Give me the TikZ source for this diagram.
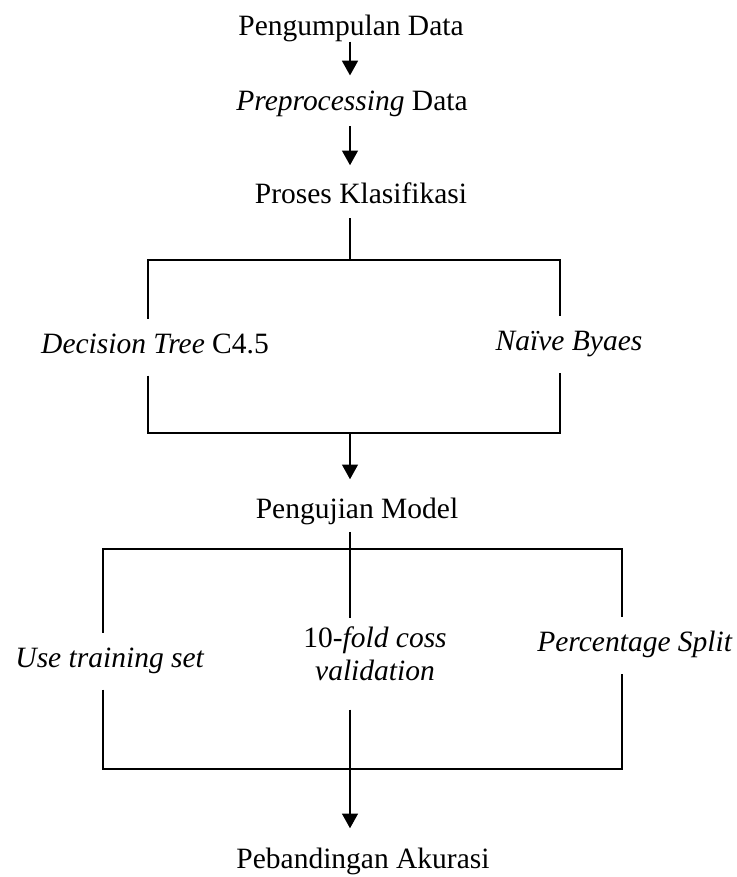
\documentclass[tikz,border=0pt]{standalone}
\usepackage{fontspec}
\setmainfont{Liberation Serif}
\usetikzlibrary{arrows.meta}

\begin{document}
\begin{tikzpicture}[x=0.4068pt, y=-0.4068pt, line width=0.9pt]
  \tikzstyle{stage} = [inner sep=0pt, text height=0.69em, text depth=0.22em, font=\fontsize{12}{13.4}\selectfont]
  \tikzstyle{method} = [stage, inner ysep=6.6pt]
  \tikzstyle{arrow} = [draw, -{Triangle[length=6pt, width=6.4pt]}]
  \useasboundingbox (0,0) rectangle (736,877);

  \coordinate (axis) at (350,0);
  \node[stage, anchor=base] (collect) at (351,35) {Pengumpulan Data};
  \node[stage, anchor=base] (prep) at (352,110) {\textit{Preprocessing} Data};
  \node[stage, anchor=base] (classify) at (361,203) {Proses Klasifikasi};
  \node[method, anchor=base] (dtree) at (155,353) {\textit{Decision Tree} C4.5};
  \node[method, anchor=base] (bayes) at (569,350) {\textit{Naïve Byaes}};
  \node[stage, anchor=base] (test) at (357,518) {Pengujian Model};
  \node[method, anchor=base] (train) at (110,667) {\textit{Use training set}};
  \node[method, anchor=base, align=center, text height=1.81em, text depth=0.5em] (cv) at (375,680) {10-\textit{fold coss}\\\textit{validation}};
  \node[method, anchor=base] (split) at (635,651) {\textit{Percentage Split}};
  \node[stage, anchor=base] (result) at (363,868) {Pebandingan Akurasi};

  % upper bracket
  \coordinate (ul) at (148,260);
  \coordinate (ur) at (560,260);
  \coordinate (ll) at (148,433);
  \coordinate (lr) at (560,433);
  % lower bracket
  \coordinate (bl) at (103,549);
  \coordinate (br) at (622,549);
  \coordinate (bl2) at (103,769);
  \coordinate (br2) at (622,769);

  \path[arrow] (axis |- collect.south) -- (axis |- prep.north) [shorten >=6.7pt];
  \path[arrow, shorten <=3.9pt, shorten >=8pt] (axis |- prep.south) -- (axis |- classify.north);
  \draw[line width=0.5pt, shorten <=3.5pt] (axis |- classify.south) -- (axis |- ul);
  \draw (ul |- dtree.north) -- (ul) -- (ur) -- (ur |- bayes.north);
  \draw (ll |- dtree.south) -- (ll) -- (lr) -- (lr |- bayes.south);
  \path[arrow, shorten >=8.4pt] (axis |- ll) -- (axis |- test.north);
  \draw[shorten <=3pt] (axis |- test.south) -- (axis |- cv.north);
  \draw (bl |- train.north) -- (bl) -- (br) -- (br |- split.north);
  \draw (bl |- train.south) -- (bl2) -- (br2) -- (br |- split.south);
  \path[arrow, shorten >=8.8pt] (axis |- cv.south) -- (axis |- result.north);
\end{tikzpicture}
\end{document}
